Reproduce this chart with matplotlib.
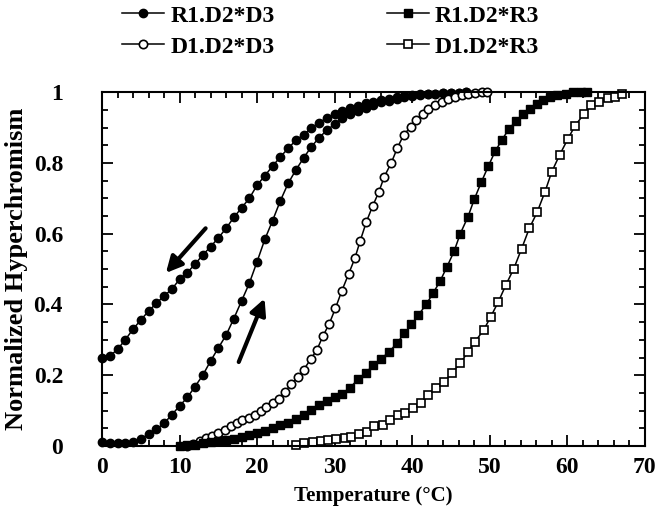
import matplotlib.pyplot as plt
from matplotlib.ticker import MultipleLocator

# R1.D2*D3 : heating and cooling branches (hysteresis)
r1d3_x = [0, 1, 2, 3, 4, 5, 6, 7, 8, 9, 10, 11, 12, 13, 14, 15, 16, 17, 18, 19,
          20, 21, 22, 23, 24, 25, 26, 27, 28, 29, 30, 31, 32, 33, 34, 35, 36, 37,
          38, 39, 40, 41, 42, 43, 44, 45, 46, 47]
r1d3_cool = [0.250, 0.254, 0.273, 0.300, 0.330, 0.356, 0.381, 0.403, 0.424, 0.443,
             0.471, 0.490, 0.514, 0.540, 0.563, 0.588, 0.615, 0.646, 0.673, 0.700,
             0.737, 0.764, 0.791, 0.817, 0.841, 0.864, 0.880, 0.899, 0.914, 0.927,
             0.937, 0.946, 0.954, 0.960, 0.968, 0.973, 0.977, 0.982, 0.987, 0.989,
             0.992, 0.994, 0.995, 0.996, 0.997, 0.998, 0.999, 1.000]
r1d3_heat = [0.012, 0.009, 0.007, 0.008, 0.011, 0.020, 0.033, 0.047, 0.064, 0.088,
             0.113, 0.137, 0.168, 0.200, 0.240, 0.277, 0.313, 0.360, 0.410, 0.460,
             0.521, 0.584, 0.637, 0.693, 0.742, 0.780, 0.814, 0.846, 0.871, 0.893,
             0.909, 0.926, 0.937, 0.946, 0.956, 0.963, 0.971, 0.975, 0.982, 0.985,
             0.989, 0.992, 0.994, 0.996, 0.997, 0.998, 0.999, 1.000]

# D1.D2*D3
d1d3_x = [11.0, 11.8, 12.6, 13.4, 14.2, 15.0, 15.8, 16.6, 17.4, 18.1, 18.9, 19.7,
          20.5, 21.2, 22.0, 22.8, 23.6, 24.4, 25.3, 26.0, 26.9, 27.7, 28.5, 29.3,
          30.1, 30.9, 31.8, 32.6, 33.3, 34.1, 34.9, 35.7, 36.4, 37.3, 38.1, 38.9,
          39.8, 40.5, 41.4, 42.1, 42.9, 43.8, 44.6, 45.5, 46.4, 47.2, 48.1, 49.0, 49.7]
d1d3_y = [0.000, 0.006, 0.014, 0.022, 0.029, 0.036, 0.045, 0.055, 0.064, 0.072,
          0.080, 0.088, 0.100, 0.111, 0.122, 0.132, 0.153, 0.175, 0.194, 0.215,
          0.245, 0.271, 0.311, 0.345, 0.389, 0.437, 0.486, 0.530, 0.580, 0.634,
          0.678, 0.718, 0.761, 0.800, 0.843, 0.879, 0.902, 0.921, 0.937, 0.952,
          0.963, 0.973, 0.980, 0.987, 0.992, 0.996, 0.999, 1.000, 1.000]

# R1.D2*R3
r1r3_x = [10.0, 11.0, 12.0, 13.0, 14.0, 15.0, 16.0, 17.0, 18.0, 19.0, 20.0, 21.0,
          22.0, 23.0, 24.0, 25.0, 26.0, 27.0, 28.0, 29.0, 30.0, 31.0, 32.0, 33.0,
          34.0, 35.0, 36.0, 37.0, 38.0, 39.0, 39.9, 40.8, 41.8, 42.7, 43.6, 44.5,
          45.4, 46.2, 47.2, 48.0, 48.9, 49.8, 50.7, 51.6, 52.5, 53.4, 54.3, 55.2,
          56.1, 56.9, 57.8, 58.7, 59.8, 60.8, 61.8, 62.6]
r1r3_y = [0.000, 0.002, 0.004, 0.007, 0.010, 0.013, 0.017, 0.021, 0.025, 0.030,
          0.036, 0.043, 0.050, 0.058, 0.066, 0.075, 0.088, 0.103, 0.116, 0.127,
          0.138, 0.148, 0.165, 0.188, 0.207, 0.228, 0.247, 0.265, 0.290, 0.318,
          0.344, 0.370, 0.400, 0.432, 0.466, 0.507, 0.550, 0.600, 0.648, 0.697,
          0.745, 0.790, 0.833, 0.866, 0.897, 0.918, 0.937, 0.953, 0.967, 0.977,
          0.985, 0.991, 0.996, 1.000, 1.000, 1.000]

# D1.D2*R3
d1r3_x = [25.0, 26.1, 27.2, 28.2, 29.2, 30.2, 31.3, 32.1, 33.2, 34.2, 35.1, 36.2,
          37.2, 38.2, 39.1, 40.1, 41.2, 42.1, 43.1, 44.1, 45.1, 46.2, 47.2, 48.1,
          49.2, 50.1, 51.1, 52.1, 53.1, 54.1, 55.1, 56.1, 57.1, 58.0, 59.0, 60.1,
          61.0, 62.1, 63.1, 64.1, 65.2, 66.2, 67.1]
d1r3_y = [0.003, 0.008, 0.012, 0.015, 0.017, 0.019, 0.022, 0.026, 0.034, 0.040,
          0.055, 0.059, 0.073, 0.088, 0.092, 0.106, 0.121, 0.144, 0.163, 0.180,
          0.206, 0.234, 0.266, 0.295, 0.327, 0.364, 0.407, 0.456, 0.501, 0.557,
          0.615, 0.660, 0.717, 0.775, 0.822, 0.869, 0.905, 0.937, 0.963, 0.971,
          0.984, 0.987, 0.996]

y_ticks = [0, 0.2, 0.4, 0.6, 0.8, 1]
y_tick_labels = ['0', '0.2', '0.4', '0.6', '0.8', '1']

plt.rcParams['font.family'] = ['Liberation Serif', 'DejaVu Serif']
plt.rcParams['font.weight'] = 'bold'

fig = plt.figure(figsize=(6.58, 5.12), dpi=100)
ax = fig.add_axes([0.155, 0.129, 0.825, 0.691])

lw = 1.1
ms = 6
ax.plot(r1d3_x, r1d3_cool, '-o', color='k', lw=lw, ms=ms, clip_on=False,
        label='R1.D2*D3')
ax.plot(r1d3_x, r1d3_heat, '-o', color='k', lw=lw, ms=ms, clip_on=False)
ax.plot(d1d3_x, d1d3_y, '-o', color='k', lw=lw, ms=ms, mfc='white', mew=1.2,
        clip_on=False, label='D1.D2*D3')
ax.plot(r1r3_x, r1r3_y, '-s', color='k', lw=lw, ms=ms, clip_on=False,
        label='R1.D2*R3')
ax.plot(d1r3_x, d1r3_y, '-s', color='k', lw=lw, ms=ms, mfc='white', mew=1.2,
        clip_on=False, label='D1.D2*R3')

# cooling / heating arrows
ax.annotate('', xy=(8.0, 0.483), xytext=(13.6, 0.621),
            arrowprops=dict(arrowstyle='-|>', lw=3, color='k', mutation_scale=24))
ax.annotate('', xy=(21.1, 0.424), xytext=(17.5, 0.23),
            arrowprops=dict(arrowstyle='-|>', lw=3, color='k', mutation_scale=24))

ax.set_xlim(0, 70)
ax.set_ylim(0, 1)
ax.xaxis.set_major_locator(MultipleLocator(10))
ax.xaxis.set_minor_locator(MultipleLocator(2))
ax.set_yticks(y_ticks)
ax.set_yticklabels(y_tick_labels)
ax.yaxis.set_minor_locator(MultipleLocator(0.05))
ax.tick_params(which='both', direction='in', top=True, right=True, width=1.3,
               labelsize=17)
ax.tick_params(which='major', length=8)
ax.tick_params(which='minor', length=4)
ax.tick_params(axis='y', pad=28)
ax.tick_params(axis='x', pad=8)
for s in ax.spines.values():
    s.set_linewidth(1.5)

ax.set_xlabel('Temperature (°C)', fontsize=15, fontweight='bold', labelpad=6)
ax.set_ylabel('Normalized Hyperchromism', fontsize=19, fontweight='bold',
              labelpad=4)

fig.legend(loc='upper left', bbox_to_anchor=(0.185, 0.99), ncol=2, frameon=False,
           fontsize=17, handlelength=1.8, columnspacing=4.75, labelspacing=0.4,
           handletextpad=0.25, borderpad=0, borderaxespad=0)

fig.savefig('out.png', dpi=100)
